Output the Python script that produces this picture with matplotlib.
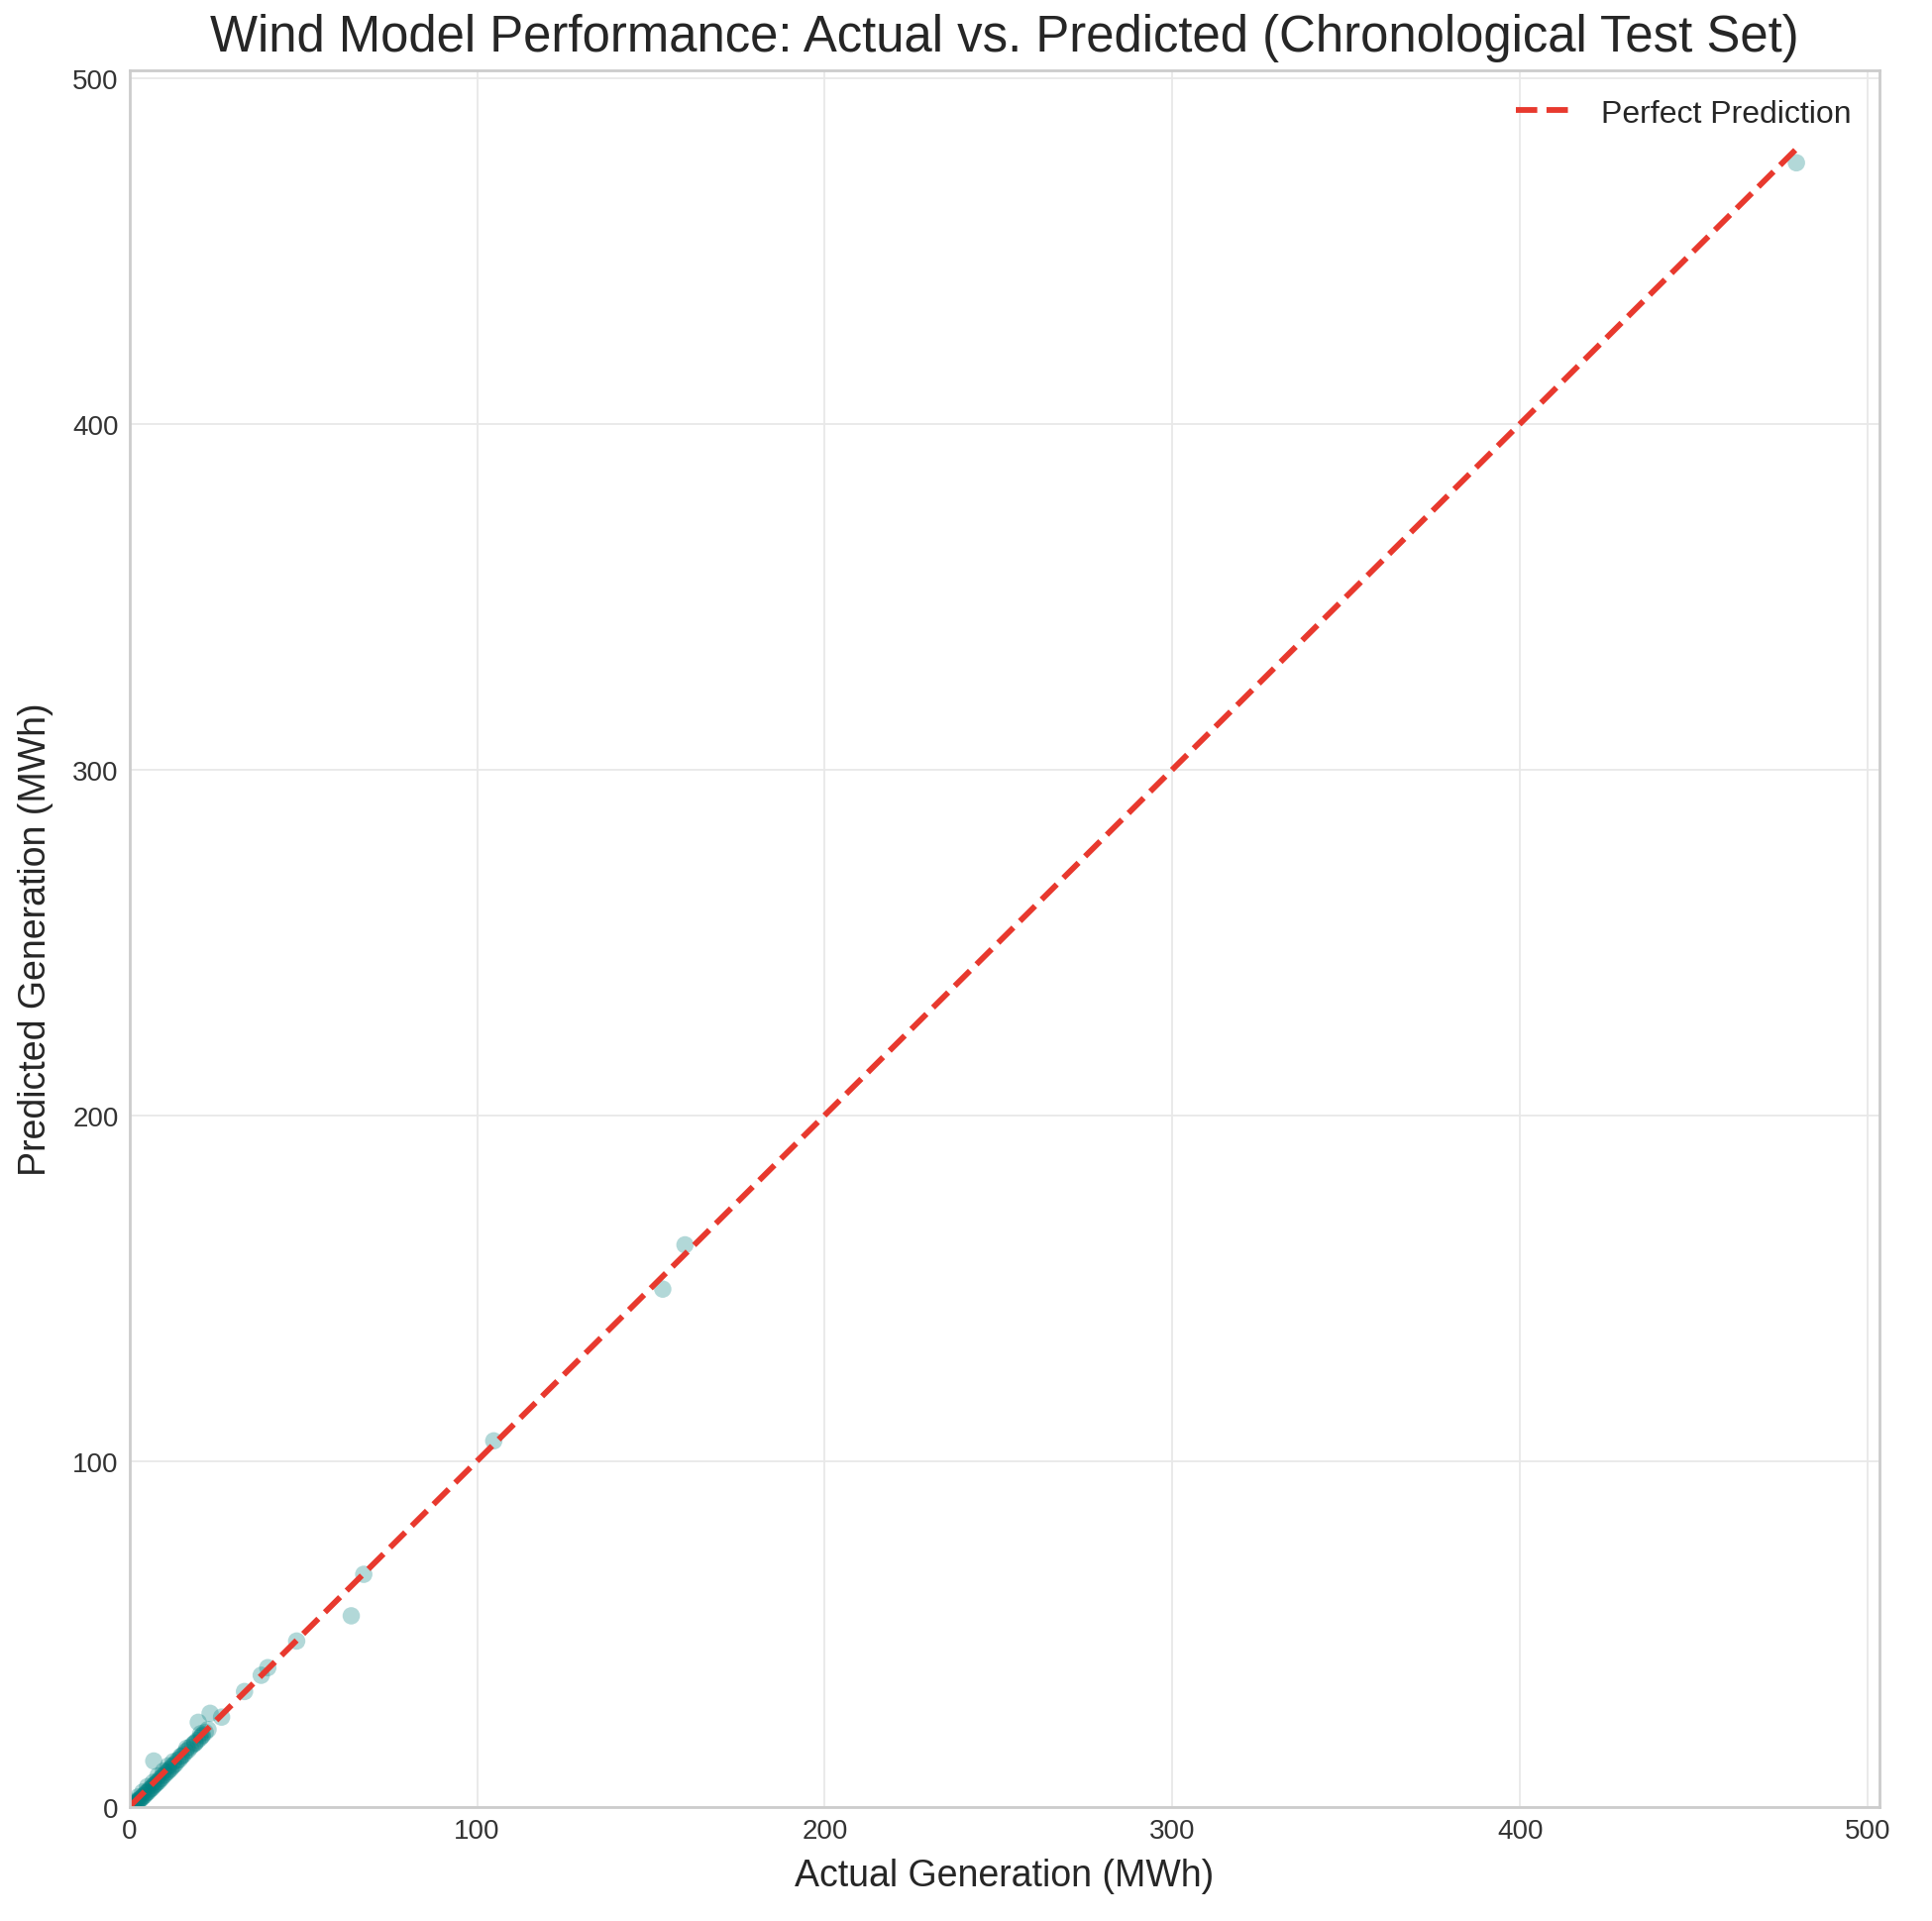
import matplotlib
matplotlib.use("Agg")
import numpy as np
from matplotlib import pyplot as plt

# values (MWh)
actual = [0.3, 0.6, 0.9, 1.2, 1.5, 1.8, 2.1, 2.4, 2.7, 3.0, 3.3, 3.6, 4.0, 4.3, 4.7,
          5.0, 5.4, 5.8, 6.1, 6.5, 6.9, 7.2, 7.6, 8.0, 8.4, 8.8, 9.2, 9.6, 10.1, 10.5,
          11.0, 11.4, 11.9, 12.3, 12.8, 13.3, 13.9, 14.4, 15.0, 15.6, 16.2, 16.9, 17.5,
          18.2, 18.9, 19.6, 20.3, 21.0, 21.8, 22.6,
          1.0, 2.5, 3.8, 5.2, 6.8, 8.2, 9.8, 11.2, 12.6, 14.8, 16.5, 18.8, 20.5,
          7.0, 19.8, 20.8, 23.2, 26.5, 33.1, 37.9, 39.8, 48.1, 63.8, 67.4,
          104.8, 153.4, 159.8, 479.5]
predicted = [0.2, 0.1, 0.5, 0.6, 0.8, 1.1, 1.3, 1.5, 1.9, 2.0, 2.4, 2.6, 3.1, 3.2, 3.8,
             4.1, 4.3, 4.9, 5.2, 5.4, 6.0, 6.3, 6.6, 7.1, 7.3, 8.0, 8.2, 8.9, 9.2, 9.8,
             10.1, 10.6, 11.0, 11.6, 12.0, 12.5, 13.4, 13.7, 14.5, 15.1, 15.9, 16.4, 17.2,
             17.9, 18.5, 19.2, 19.8, 20.7, 21.5, 22.3,
             1.5, 2.8, 4.2, 5.8, 7.0, 8.9, 10.3, 11.8, 13.0, 14.6, 16.9, 18.3, 21.1,
             13.2, 24.4, 20.4, 27.0, 25.9, 33.3, 38.0, 40.2, 47.9, 55.2, 67.2,
             105.8, 149.7, 162.5, 475.5]

plt.style.use('seaborn-v0_8-whitegrid')
plt.rcParams['font.family'] = ['Liberation Sans', 'DejaVu Sans']

fig = plt.figure(figsize=(19.5, 19.4), dpi=100)
ax = fig.add_axes([0.067, 0.0595, 0.906, 0.9035])

ax.scatter(actual, predicted, s=160, color='teal', alpha=0.3, edgecolors='none')
hi = max(actual)
ax.plot([0, hi], [0, hi], '--', color='#e8392e', lw=4.2, label='Perfect Prediction')

ax.set_xlim(0, 503.5)
ax.set_ylim(0, 502.3)
ax.set_xticks([0, 100, 200, 300, 400, 500])
ax.set_yticks([0, 100, 200, 300, 400, 500])

ax.set_title('Wind Model Performance: Actual vs. Predicted (Chronological Test Set)',
             fontsize=36.6, color='#262626', pad=14)
ax.set_xlabel('Actual Generation (MWh)', fontsize=27, color='#262626', labelpad=10)
ax.set_ylabel('Predicted Generation (MWh)', fontsize=27, color='#262626', labelpad=14)
ax.tick_params(labelsize=20, labelcolor='#333333', length=0, pad=8)

ax.grid(True, color='#e8e8e8', lw=1.3)
for sp in ax.spines.values():
    sp.set_visible(True)
    sp.set_color('#cccccc')
    sp.set_linewidth(2)

ax.legend(loc='upper right', fontsize=23, frameon=False, handlelength=1.8,
          handletextpad=0.9)

fig.savefig('out.png', dpi=100, facecolor='white')
